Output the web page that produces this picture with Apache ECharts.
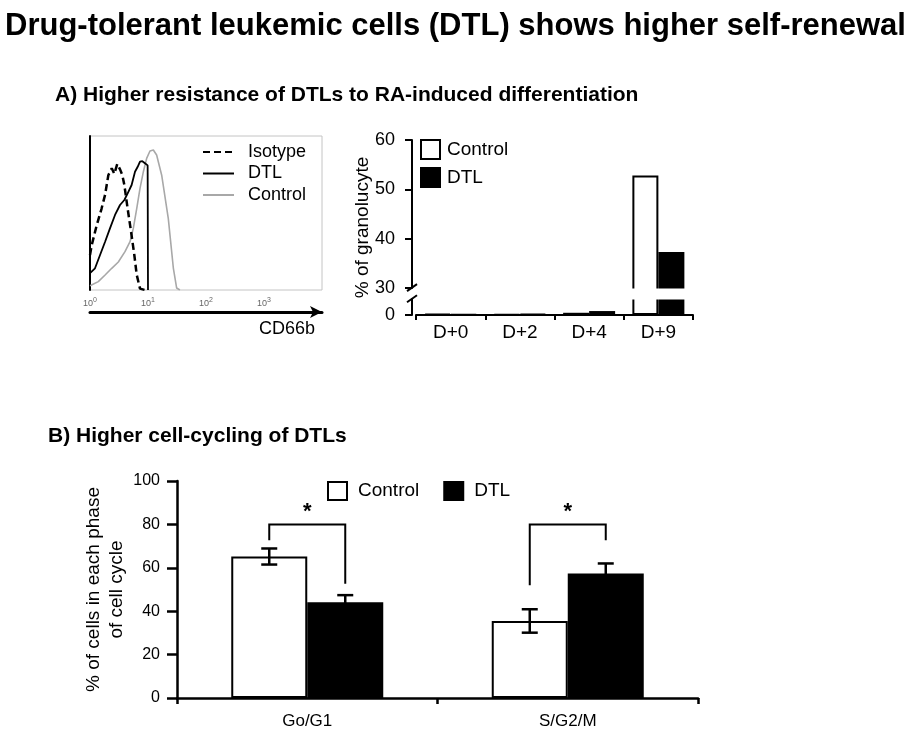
<!DOCTYPE html>
<html>
<head>
<meta charset="utf-8">
<script src="https://cdn.jsdelivr.net/npm/echarts@6/dist/echarts.min.js"></script>
<style>
html,body{margin:0;padding:0;background:#fff;}
#chart{width:906px;height:736px;}
</style>
</head>
<body>
<div id="chart"></div>
<script>
// ---------- texts ----------
const mainTitle = 'Drug-tolerant leukemic cells (DTL) shows higher self-renewal';
const panelATitle = 'A) Higher resistance of DTLs to RA-induced differentiation';
const panelBTitle = 'B) Higher cell-cycling of DTLs';

// ---------- Panel A left: CD66b flow histogram (intensity, % of max) ----------
const isotypeX = [1.0, 1.07, 1.30, 1.58, 1.82, 2.07, 2.37, 2.63, 2.95, 3.31, 3.61, 3.91, 4.46, 5.09, 5.81, 6.38, 7.28, 8.87];
const isotypeY = [25, 32, 46, 58, 68, 82, 87, 83, 90, 86, 82, 75, 58, 42, 25, 11, 1, 0];
const dtlHistX = [1.0, 1.07, 1.22, 1.49, 1.82, 2.21, 2.70, 3.29, 3.91, 4.46, 5.22, 5.97, 6.64, 7.28, 7.98, 8.87, 9.86, 10.0];
const dtlHistY = [12, 13, 15.5, 25, 34.5, 44, 53.6, 60.7, 64.3, 69, 75, 84.5, 88, 91.7, 92, 90.5, 89, 0];
const controlHistX = [1.0, 1.07, 1.39, 1.82, 2.37, 3.08, 4.01, 4.90, 5.58, 6.38, 7.28, 8.32, 9.48, 10.81, 12.36, 14.09, 17.22, 22.39, 27.35, 31.2, 35.5];
const controlHistY = [3, 3.6, 6, 10.7, 15.5, 20, 27.4, 34.5, 44, 58, 72.6, 84.5, 94, 99.3, 100, 96.4, 82, 51, 15.7, 1.4, 0];
const histLegendNames = ['Isotype', 'DTL (CD66b)', 'Control (CD66b)'];

// ---------- Panel A right: % of granulocyte ----------
const dayCats = ['D+0', 'D+2', 'D+4', 'D+9'];
const granControl = [0.2, 0.15, 0.45, 52.8];
const granDTL = [0.15, 0.2, 0.8, 37.3];
const granTicks = [0, 30, 40, 50, 60];
const granBreak = {start: 3.2, end: 30};

// ---------- Panel B: cell cycle ----------
const cycleCats = ['Go/G1', 'S/G2/M'];
const cycleControl = [65.2, 35.5];
const cycleControlErr = [3.7, 5.4];
const cycleDTL = [44.1, 57.4];
const cycleDTLErr = [3.3, 4.6];
const bracketTop = [80, 80];
const bracketLeftEnd = [72.7, 52.0];
const bracketRightEnd = [52.7, 72.7];
const sigMarks = ['*', '*'];

const FONT = '"Liberation Sans", Arial, Helvetica, sans-serif';
const BAR_W = 76;
const CAP = 8;

const chart = echarts.init(document.getElementById('chart'), null, {renderer: 'canvas'});

function toPairs(xs, ys) { return xs.map((x, i) => [x, ys[i]]); }

function errorBarItem(sign) {
  return function (params, api) {
    const idx = api.value(0), v = api.value(1), e = api.value(2);
    const x = api.coord([idx, v])[0] + sign * BAR_W / 2;
    const yTop = api.coord([idx, v + e])[1];
    const yBot = api.coord([idx, v - e])[1];
    const style = {stroke: '#000', lineWidth: 2.5};
    return {type: 'group', children: [
      {type: 'line', shape: {x1: x, y1: yTop, x2: x, y2: yBot}, style: style},
      {type: 'line', shape: {x1: x - CAP, y1: yTop, x2: x + CAP, y2: yTop}, style: style},
      {type: 'line', shape: {x1: x - CAP, y1: yBot, x2: x + CAP, y2: yBot}, style: style}
    ]};
  };
}

function bracketItem(params, api) {
  const idx = api.value(0), top = api.value(1), l = api.value(2), r = api.value(3);
  const pTop = api.coord([idx, top]);
  const cx = pTop[0], yTop = pTop[1];
  const xl = cx - BAR_W / 2, xr = cx + BAR_W / 2;
  const yl = api.coord([idx, l])[1], yr = api.coord([idx, r])[1];
  return {type: 'group', children: [
    {type: 'polyline', shape: {points: [[xl, yl], [xl, yTop], [xr, yTop], [xr, yr]]},
     style: {stroke: '#000', lineWidth: 2, fill: null}},
    {type: 'text', style: {text: sigMarks[params.dataIndex], x: cx, y: yTop - 1,
      align: 'center', verticalAlign: 'bottom', font: 'bold 22px ' + FONT, fill: '#000'}}
  ]};
}

const barControlStyle = {color: '#fff', borderColor: '#000', borderWidth: 2};
const barDTLStyle = {color: '#000', borderColor: '#000', borderWidth: 2};

const option = {
  animation: false,
  backgroundColor: '#fff',
  textStyle: {fontFamily: FONT, color: '#000'},
  title: [
    {text: mainTitle, left: 5, top: 11, padding: 0,
     textStyle: {fontSize: 31, fontWeight: 'bold', color: '#000', fontFamily: FONT}},
    {text: panelATitle, left: 55, top: 85, padding: 0,
     textStyle: {fontSize: 21, fontWeight: 'bold', color: '#000', fontFamily: FONT}},
    {text: panelBTitle, left: 48, top: 426, padding: 0,
     textStyle: {fontSize: 21, fontWeight: 'bold', color: '#000', fontFamily: FONT}}
  ],
  legend: [
    {data: histLegendNames, orient: 'vertical', left: 202, top: 143, padding: 0,
     itemWidth: 31, itemHeight: 17, itemGap: 3.5,
     itemStyle: {opacity: 0},
     formatter: n => n.split(' (')[0],
     textStyle: {fontSize: 18, color: '#000', fontFamily: FONT, padding: [0, 0, 0, 9]}},
    {data: ['Control', 'DTL'], orient: 'vertical', left: 420, top: 139, padding: 0,
     icon: 'rect', itemWidth: 19, itemHeight: 19, itemGap: 7,
     textStyle: {fontSize: 19, color: '#000', fontFamily: FONT, padding: [0, 0, 0, 2]}},
    {data: ['Control', 'DTL'], orient: 'horizontal', left: 327, top: 481, padding: 0,
     icon: 'rect', itemWidth: 19, itemHeight: 18, itemGap: 24,
     textStyle: {fontSize: 19, color: '#000', fontFamily: FONT, padding: [0, 0, 0, 6]}}
  ],
  grid: [
    {left: 90, top: 136, width: 232, height: 154, show: true, borderColor: '#c4c4c4', borderWidth: 1,
     backgroundColor: 'transparent', outerBoundsMode: 'none', containLabel: false},
    {left: 416, top: 140, width: 277, height: 175, outerBoundsMode: 'none', containLabel: false},
    {left: 177, top: 481, width: 521, height: 217, outerBoundsMode: 'none', containLabel: false}
  ],
  xAxis: [
    {type: 'log', logBase: 10, gridIndex: 0, min: 1, max: 10000,
     axisLine: {show: false}, axisTick: {show: false}, splitLine: {show: false},
     axisLabel: {margin: 7, showMaxLabel: false, color: '#666',
       formatter: v => '{b|10}{s|' + Math.round(Math.log10(v)) + '}',
       rich: {b: {fontSize: 9, color: '#666', fontFamily: FONT},
              s: {fontSize: 7, color: '#666', fontFamily: FONT, padding: [0, 0, 6, 0]}}}},
    {type: 'value', gridIndex: 0, position: 'bottom', offset: 22, min: 0, max: 1,
     axisLine: {show: true, lineStyle: {color: '#000', width: 3}, symbol: ['none', 'arrow'], symbolSize: [9, 12]},
     axisTick: {show: false}, axisLabel: {show: false}, splitLine: {show: false},
     name: 'CD66b', nameLocation: 'end', nameGap: -7,
     nameTextStyle: {fontSize: 18, color: '#000', fontFamily: FONT, align: 'right', verticalAlign: 'top', padding: [8, 0, 0, 0]}},
    {type: 'category', gridIndex: 1, data: dayCats,
     axisLine: {show: true, lineStyle: {color: '#000', width: 2}},
     axisTick: {show: true, length: 5, lineStyle: {color: '#000', width: 2}},
     axisLabel: {interval: 0, margin: 8, fontSize: 19, color: '#000', fontFamily: FONT},
     splitLine: {show: false}},
    {type: 'category', gridIndex: 2, data: cycleCats,
     axisLine: {show: true, lineStyle: {color: '#000', width: 2.5}},
     axisTick: {show: true, length: 6, lineStyle: {color: '#000', width: 2.5}},
     axisLabel: {interval: 0, margin: 15, fontSize: 17, color: '#000', fontFamily: FONT},
     splitLine: {show: false}}
  ],
  yAxis: [
    {type: 'value', gridIndex: 0, min: 0, max: 110,
     axisLine: {show: true, lineStyle: {color: '#000', width: 2}},
     axisTick: {show: false}, axisLabel: {show: false}, splitLine: {show: false}},
    {type: 'value', gridIndex: 1, min: 0, max: 60, interval: 10, offset: 4,
     breaks: [{start: granBreak.start, end: granBreak.end, gap: '6.3%'}],
     breakArea: {show: true, itemStyle: {color: '#fff', opacity: 1, borderWidth: 0, borderColor: '#fff'}, zigzagAmplitude: 0},
     breakLabelLayout: {moveOverlap: false},
     axisLine: {show: true, lineStyle: {color: '#000', width: 2}},
     axisTick: {show: true, length: 7, customValues: granTicks, lineStyle: {color: '#000', width: 2}},
     axisLabel: {margin: 17, fontSize: 18, color: '#000', fontFamily: FONT,
       customValues: granTicks, showMinLabel: true, hideOverlap: false,
       formatter: v => String(v)},
     splitLine: {show: false},
     name: '% of granolucyte', nameLocation: 'middle', nameGap: 40, nameRotate: 90, nameMoveOverlap: false,
     nameTextStyle: {fontSize: 19, color: '#000', fontFamily: FONT}},
    {type: 'value', gridIndex: 2, min: 0, max: 100, interval: 20,
     axisLine: {show: true, lineStyle: {color: '#000', width: 2.5}},
     axisTick: {show: true, length: 10, lineStyle: {color: '#000', width: 2.5}},
     axisLabel: {margin: 17, fontSize: 16, color: '#000', fontFamily: FONT},
     splitLine: {show: false},
     name: '% of cells in each phase\nof cell cycle', nameLocation: 'middle', nameGap: 49, nameRotate: 90, nameMoveOverlap: false,
     nameTextStyle: {fontSize: 19, lineHeight: 23, color: '#000', fontFamily: FONT}}
  ],
  series: [
    {type: 'line', name: histLegendNames[0], xAxisIndex: 0, yAxisIndex: 0, data: toPairs(isotypeX, isotypeY),
     symbol: 'none', lineStyle: {color: '#000', width: 2.5, type: [7, 4]}, itemStyle: {color: '#000'}, z: 4},
    {type: 'line', name: histLegendNames[1], xAxisIndex: 0, yAxisIndex: 0, data: toPairs(dtlHistX, dtlHistY),
     symbol: 'none', lineStyle: {color: '#000', width: 1.8}, itemStyle: {color: '#000'}, z: 3},
    {type: 'line', name: histLegendNames[2], xAxisIndex: 0, yAxisIndex: 0, data: toPairs(controlHistX, controlHistY),
     symbol: 'none', lineStyle: {color: '#a8a8a8', width: 1.6}, itemStyle: {color: '#a8a8a8'}, z: 2},

    {type: 'bar', name: 'Control', xAxisIndex: 2, yAxisIndex: 1, data: granControl,
     barWidth: 26, barGap: '0%', itemStyle: barControlStyle},
    {type: 'bar', name: 'DTL', xAxisIndex: 2, yAxisIndex: 1, data: granDTL,
     barWidth: 26, barGap: '0%', itemStyle: barDTLStyle},

    {type: 'bar', name: 'Control', xAxisIndex: 3, yAxisIndex: 2, data: cycleControl,
     barWidth: BAR_W, barGap: '0%', itemStyle: barControlStyle},
    {type: 'bar', name: 'DTL', xAxisIndex: 3, yAxisIndex: 2, data: cycleDTL,
     barWidth: BAR_W, barGap: '0%', itemStyle: barDTLStyle},

    {type: 'custom', name: 'Control SEM', xAxisIndex: 3, yAxisIndex: 2, z: 5,
     renderItem: errorBarItem(-1), encode: {x: 0, y: 1},
     data: cycleCats.map((c, i) => [i, cycleControl[i], cycleControlErr[i]])},
    {type: 'custom', name: 'DTL SEM', xAxisIndex: 3, yAxisIndex: 2, z: 5,
     renderItem: errorBarItem(1), encode: {x: 0, y: 1},
     data: cycleCats.map((c, i) => [i, cycleDTL[i], cycleDTLErr[i]])},
    {type: 'custom', name: 'significance', xAxisIndex: 3, yAxisIndex: 2, z: 5,
     renderItem: bracketItem, encode: {x: 0, y: 1},
     data: cycleCats.map((c, i) => [i, bracketTop[i], bracketLeftEnd[i], bracketRightEnd[i]])}
  ]
};

chart.setOption(option);

// axis-break slash marks on the granulocyte y axis, placed from the axis scale
(function () {
  const yHi = chart.convertToPixel({yAxisIndex: 1}, granBreak.end);
  const yLo = chart.convertToPixel({yAxisIndex: 1}, granBreak.start);
  const gridRect = chart.getModel().getComponent('grid', 1).coordinateSystem.getRect();
  const ax = gridRect.x - 4;
  const st = {stroke: '#000', lineWidth: 2};
  chart.setOption({graphic: [
    {type: 'line', z: 100, shape: {x1: ax - 5, y1: yHi + 3, x2: ax + 5, y2: yHi - 4}, style: st},
    {type: 'line', z: 100, shape: {x1: ax - 5, y1: yLo + 3, x2: ax + 5, y2: yLo - 4}, style: st}
  ]});
})();
</script>
</body>
</html>
